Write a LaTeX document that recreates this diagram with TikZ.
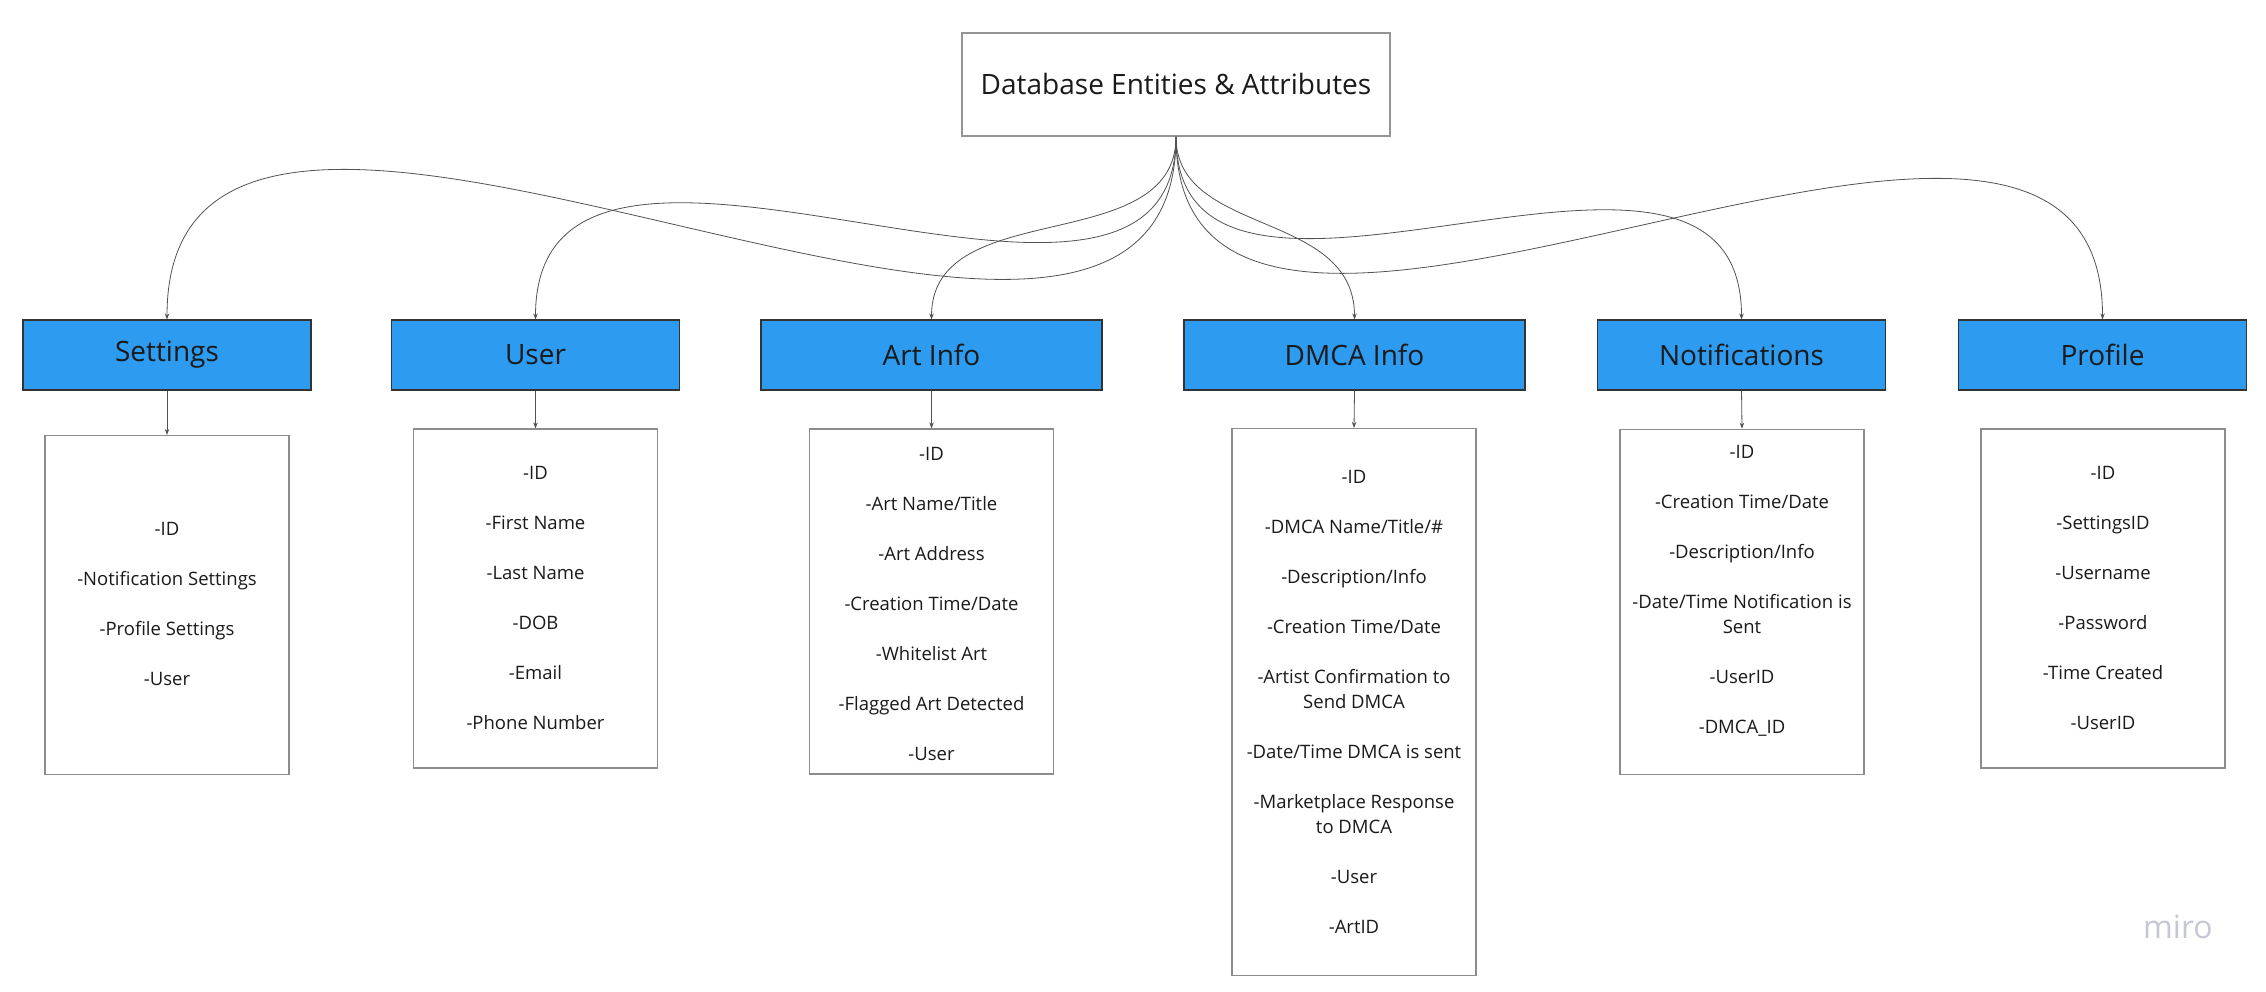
\documentclass[tikz,border=0pt]{standalone}
\usepackage{fontspec}
\setmainfont{Open Sans}
\usetikzlibrary{arrows.meta}
\definecolor{boxblue}{HTML}{2D9BF0}
\definecolor{txt}{HTML}{1A1A1A}
\definecolor{wm}{HTML}{C6C7D4}
\begin{document}
\begin{tikzpicture}[x=1pt,y=-1pt,
  titlebox/.style={draw=black!42, line width=1.5pt, fill=white, minimum width=428pt, minimum height=103pt, inner sep=0pt, font=\fontsize{28}{34}\selectfont, text=txt},
  entity/.style={draw=black!80, line width=1.1pt, fill=boxblue, minimum width=288pt, minimum height=70pt, inner sep=0pt, font=\fontsize{28}{34}\selectfont, text=txt},
  attrbox/.style={draw=black!45, line width=1.2pt, fill=white, minimum width=244pt, inner sep=0pt},
  attrtext/.style={align=center, font=\fontsize{18.5}{25}\selectfont, text=txt, inner sep=0pt},
  conn/.style={draw=black!68, line width=0.8pt, -{Stealth[length=6pt,width=4.5pt]}}
]
\useasboundingbox (0,0) rectangle (2266,992);
\fill[white] (0,0) rectangle (2266,992);

% title
\node[titlebox] (title) at (1176,84.5) {Database Entities \& Attributes};

% entity boxes
\node[entity] (settings) at (167,355) {Settings};
\node[entity] (user) at (535.5,355) {User};
\node[entity, minimum width=341pt] (art) at (931.5,355) {Art Info};
\node[entity, minimum width=341pt] (dmca) at (1354.5,355) {DMCA Info};
\node[entity] (notif) at (1741.5,355) {Notifications};
\node[entity] (profile) at (2102.5,355) {Profile};

% attribute boxes
\node[attrbox, minimum height=339pt] (setb) at (167,605) {};
\node[attrbox, minimum height=339pt] (userb) at (535.5,598.5) {};
\node[attrbox, minimum height=345pt] (artb) at (931.5,601.5) {};
\node[attrbox, minimum height=547pt] (dmcab) at (1354,702) {};
\node[attrbox, minimum height=345pt] (notifb) at (1742,601.7) {};
\node[attrbox, minimum height=339pt] (profb) at (2103,598.5) {};

% attribute texts
\node[attrtext] (sett) at (167,603.5) {-ID\\[25pt]-Notification Settings\\[25pt]-Profile Settings\\[25pt]-User};
\node[attrtext] (usert) at (535.5,598) {-ID\\[25pt]-First Name\\[25pt]-Last Name\\[25pt]-DOB\\[25pt]-Email\\[25pt]-Phone Number};
\node[attrtext] (artt) at (931.5,604) {-ID\\[25pt]-Art Name/Title\\[25pt]-Art Address\\[25pt]-Creation Time/Date\\[25pt]-Whitelist Art\\[25pt]-Flagged Art Detected\\[25pt]-User};
\node[attrtext] (dmcat) at (1354,701.5) {-ID\\[25pt]-DMCA Name/Title/\#\\[25pt]-Description/Info\\[25pt]-Creation Time/Date\\[25pt]-Artist Confirmation to\\Send DMCA\\[25pt]-Date/Time DMCA is sent\\[25pt]-Marketplace Response\\to DMCA\\[25pt]-User\\[25pt]-ArtID};
\node[attrtext] (notift) at (1742,591) {-ID\\[25pt]-Creation Time/Date\\[25pt]-Description/Info\\[25pt]-Date/Time Notification is\\Sent\\[25pt]-UserID\\[25pt]-DMCA\_ID};
\node[attrtext] (proft) at (2103,598) {-ID\\[25pt]-SettingsID\\[25pt]-Username\\[25pt]-Password\\[25pt]-Time Created\\[25pt]-UserID};

% curved connectors from title
\draw[conn] (title.south) .. controls +(0,410) and +(0,-420) .. (settings.north);
\draw[conn] (title.south) .. controls +(0,275) and +(0,-290) .. (user.north);
\draw[conn] (title.south) .. controls +(0,122) and +(0,-125) .. (art.north);
\draw[conn] (title.south) .. controls +(0,100) and +(0,-110) .. (dmca.north);
\draw[conn] (title.south) .. controls +(0,255) and +(0,-265) .. (notif.north);
\draw[conn] (title.south) .. controls +(0,385) and +(0,-390) .. (profile.north);

% straight connectors
\draw[conn] (settings.south) -- (setb.north);
\draw[conn] (user.south) -- (userb.north);
\draw[conn] (art.south) -- (artb.north);
\draw[conn] (dmca.south) -- (dmcab.north);
\draw[conn] (notif.south) -- (notifb.north);

% watermark
\node[text=wm, font=\fontsize{32}{38}\selectfont, inner sep=0pt] (miro) at (2178,927) {miro};
\end{tikzpicture}
\end{document}
